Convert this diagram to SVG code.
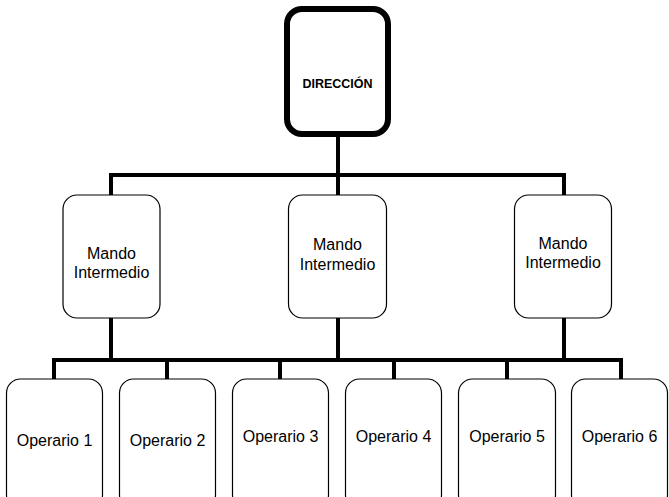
<svg xmlns="http://www.w3.org/2000/svg" width="669" height="497" viewBox="0 0 669 497">
<style>
.bg{fill:#fff}
.box{fill:#fff;stroke:#000;stroke-width:1.2}
.top{fill:#fff;stroke:#000;stroke-width:6}
.ln{fill:none;stroke:#000;stroke-width:4;stroke-linecap:butt}
.t{font-family:"Liberation Sans",Arial,sans-serif;font-size:16px;fill:#000;text-anchor:middle}
.tb{font-family:"Liberation Sans",Arial,sans-serif;font-size:12.5px;font-weight:bold;fill:#000;text-anchor:middle}
</style>
<rect class="bg" x="0" y="0" width="669" height="497"/>
<g id="connectors">
<path class="ln" d="M338 137V175M111 175H564M111 173V195M338 173V195M564 173V195"/>
<path class="ln" d="M111 318V360M338 318V360M564 318V360M54 360H621M54 358V379M167 358V379M280 358V379M394 358V379M507 358V379M621 358V379"/>
</g>
<g id="direccion">
<rect class="top" x="287" y="9" width="101" height="125" rx="15"/>
<text class="tb" x="337.5" y="88">DIRECCIÓN</text>
</g>
<g id="mando1">
<rect class="box" x="63" y="195" width="97" height="123" rx="14"/>
<text class="t" x="111.5" y="259">Mando</text>
<text class="t" x="111.5" y="278">Intermedio</text>
</g>
<g id="mando2">
<rect class="box" x="288.5" y="195" width="98" height="123" rx="14"/>
<text class="t" x="337.5" y="250">Mando</text>
<text class="t" x="337.5" y="270">Intermedio</text>
</g>
<g id="mando3">
<rect class="box" x="514.5" y="195" width="97" height="123" rx="14"/>
<text class="t" x="563" y="249">Mando</text>
<text class="t" x="563" y="268">Intermedio</text>
</g>
<g id="op1">
<rect class="box" x="6.5" y="379" width="96" height="130" rx="14"/>
<text class="t" x="54.5" y="446">Operario 1</text>
</g>
<g id="op2">
<rect class="box" x="119.5" y="379" width="96" height="130" rx="14"/>
<text class="t" x="167.5" y="446">Operario 2</text>
</g>
<g id="op3">
<rect class="box" x="232.5" y="379" width="96" height="130" rx="14"/>
<text class="t" x="280.5" y="442">Operario 3</text>
</g>
<g id="op4">
<rect class="box" x="345.5" y="379" width="96" height="130" rx="14"/>
<text class="t" x="393.5" y="442">Operario 4</text>
</g>
<g id="op5">
<rect class="box" x="458.5" y="379" width="97" height="130" rx="14"/>
<text class="t" x="507" y="442">Operario 5</text>
</g>
<g id="op6">
<rect class="box" x="571.5" y="379" width="96" height="130" rx="14"/>
<text class="t" x="619.5" y="442">Operario 6</text>
</g>
</svg>
